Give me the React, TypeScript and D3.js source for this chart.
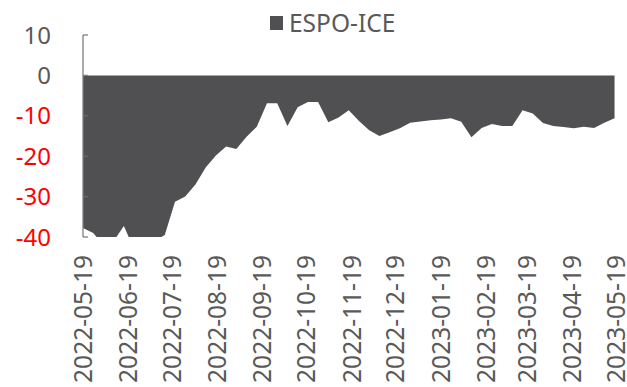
import React from "react";
import * as d3 from "d3";

// Weekly observation dates (2022-05-19 .. 2023-05-18)
const dates: string[] = [
  "2022-05-19", "2022-05-26", "2022-06-02", "2022-06-09", "2022-06-16", "2022-06-23", "2022-06-30",
  "2022-07-07", "2022-07-14", "2022-07-21", "2022-07-28", "2022-08-04", "2022-08-11", "2022-08-18",
  "2022-08-25", "2022-09-01", "2022-09-08", "2022-09-15", "2022-09-22", "2022-09-29", "2022-10-06",
  "2022-10-13", "2022-10-20", "2022-10-27", "2022-11-03", "2022-11-10", "2022-11-17", "2022-11-24",
  "2022-12-01", "2022-12-08", "2022-12-15", "2022-12-22", "2022-12-29", "2023-01-05", "2023-01-12",
  "2023-01-19", "2023-01-26", "2023-02-02", "2023-02-09", "2023-02-16", "2023-02-23", "2023-03-02",
  "2023-03-09", "2023-03-16", "2023-03-23", "2023-03-30", "2023-04-06", "2023-04-13", "2023-04-20",
  "2023-04-27", "2023-05-04", "2023-05-11", "2023-05-18",
];

// ESPO-ICE spread
const espoIce: number[] = [
  -37.8, -39.0, -42.0, -41.0, -37.3, -43.0, -42.0, -41.0, -39.5, -31.3,
  -30.0, -27.0, -22.8, -19.8, -17.6, -18.2, -15.2, -12.7, -6.9, -6.9,
  -12.5, -7.9, -6.6, -6.6, -11.6, -10.4, -8.6, -11.3, -13.6, -15.0,
  -14.1, -13.1, -11.7, -11.4, -11.1, -10.9, -10.6, -11.5, -15.3, -13.0,
  -12.0, -12.5, -12.5, -8.6, -9.4, -11.8, -12.5, -12.8, -13.1, -12.7,
  -13.0, -11.7, -10.6,
];

const xTickLabels: string[] = [
  "2022-05-19", "2022-06-19", "2022-07-19", "2022-08-19", "2022-09-19", "2022-10-19", "2022-11-19",
  "2022-12-19", "2023-01-19", "2023-02-19", "2023-03-19", "2023-04-19", "2023-05-19",
];
const yTicks: number[] = [10, 0, -10, -20, -30, -40];
const seriesName = "ESPO-ICE";

const W = 627;
const H = 387;
const FONT = "'Noto Sans', 'DejaVu Sans', sans-serif";
const AREA = "#505052";
const GREY = "#595959";

export default function App() {
  const parse = d3.timeParse("%Y-%m-%d");
  const x = d3
    .scaleTime()
    .domain([parse("2022-05-19") as Date, parse("2023-05-19") as Date])
    .range([83, 616]);
  const y = d3.scaleLinear().domain([-40, 10]).range([237, 35]);

  const pts = dates.map((d, i) => ({ date: parse(d) as Date, v: espoIce[i] }));
  const area = d3
    .area<{ date: Date; v: number }>()
    .x((d) => x(d.date))
    .y0(y(0))
    .y1((d) => y(d.v));

  const [x0, x1] = x.range();

  return (
    <svg
      width={W}
      height={H}
      style={{ position: "absolute", left: 0, top: 0, background: "#fff" }}
      fontFamily={FONT}
    >
      <defs>
        <clipPath id="plot">
          <rect x={x0} y={y(10)} width={x1 - x0 + 2} height={y(-40) - y(10)} />
        </clipPath>
      </defs>

      {/* legend */}
      <rect x={270} y={16} width={13} height={14} fill={AREA} />
      <text x={289} y={31.5} fontSize={24.5} fill={GREY}>
        {seriesName}
      </text>

      {/* area */}
      <path d={area(pts) ?? ""} fill={AREA} clipPath="url(#plot)" />

      {/* y axis */}
      <line x1={x0} x2={x0} y1={y(10)} y2={y(-40)} stroke="#7f7f7f" strokeWidth={1.3} />
      {yTicks.map((t) => (
        <g key={t}>
          <line
            x1={x0}
            x2={x0 + 5}
            y1={y(t)}
            y2={y(t)}
            stroke={t < 0 && t > -40 ? "#6a6a6c" : "#7f7f7f"}
            strokeWidth={1.3}
          />
          <text
            x={51}
            y={y(t)}
            dy="0.36em"
            textAnchor="end"
            fontSize={24}
            fill={t < 0 ? "#ff0000" : GREY}
          >
            {t}
          </text>
        </g>
      ))}

      {/* x tick labels */}
      {xTickLabels.map((s) => {
        const px = x(parse(s) as Date);
        return (
          <text
            key={s}
            transform={`translate(${px},255) rotate(-90)`}
            textAnchor="end"
            dy="0.36em"
            fontSize={24.5}
            fill={GREY}
          >
            {s}
          </text>
        );
      })}
    </svg>
  );
}
